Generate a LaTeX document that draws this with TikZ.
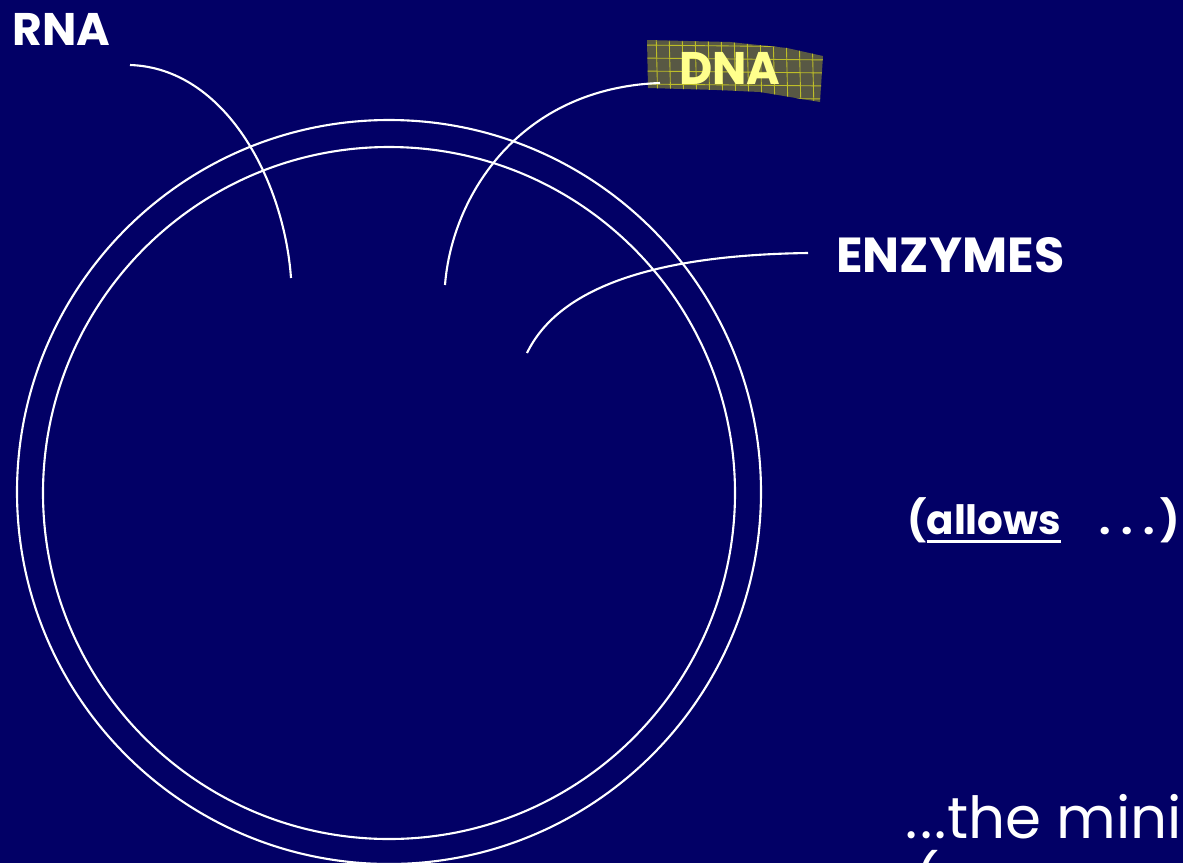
\documentclass[tikz,border=0pt]{standalone}
\usepackage{fontspec}
\setmainfont{Poppins}
\definecolor{slide}{RGB}{2,0,102}
\definecolor{dnapatch}{RGB}{88,88,68}
\definecolor{dnagrid}{RGB}{190,190,40}
\definecolor{dnatext}{RGB}{255,255,140}
\newcommand{\thickul}[1]{\setbox0\hbox{#1}\rlap{\rule[-5pt]{\wd0}{1.8pt}}\box0}
\tikzset{
  cell/.style={white,line width=1.2pt},
  pointer/.style={white,line width=1.2pt},
  tag/.style={inner sep=0pt,anchor=base west,text=white,font=\bfseries\fontsize{26}{30}\selectfont},
}
\begin{document}
\begin{tikzpicture}[x=0.02cm,y=-0.02cm]
  \fill[slide] (0,0) rectangle (1183,863);
  \useasboundingbox (0,0) rectangle (1183,863);
  % cell: two membranes
  \draw[cell] (389,492) circle[radius=372];
  \draw[cell] (389,493) circle[radius=346];
  % DNA patch with its grid
  \fill[dnapatch] (647,40)--(730,42)--(787,48)--(823,56)--(820,102)--(760,92)--(717,90)--(648,88)--cycle;
  \begin{scope}
    \clip (647,40)--(730,42)--(787,48)--(823,56)--(820,102)--(760,92)--(717,90)--(648,88)--cycle;
    \foreach \gx in {656,669,...,830}
      \draw[dnagrid,line width=0.5pt] (\gx,30)--(\gx+2,110);
    \foreach \gy in {45,58,...,110}
      \draw[dnagrid,line width=0.5pt] (640,\gy)--(830,\gy+2);
  \end{scope}
  % labels
  \node[tag] (rna) at (12,45) {RNA};
  \node[tag,text=dnatext] (dna) at (679,84) {DNA};
  \node[tag,font=\bfseries\fontsize{28}{32}\selectfont] (enzymes) at (836,272) {ENZYMES};
  \node[tag,font=\bfseries\fontsize{23}{28}\selectfont] (allows) at (907,534)
    {(\thickul{allows}\hspace{22pt}.\hspace{6pt}.\hspace{6pt}.\hspace{3pt})};
  \node[tag,font=\fontsize{33}{40}\selectfont] (minimal) at (905,838) {.\kern1.5pt.\kern1.5pt.the mini};
  \node[tag,font=\fontsize{33}{40}\selectfont] (minimal2) at (913,904) {(};
  % pointers into the cell
  \coordinate (rnafrom) at (130,65);
  \coordinate (rnato) at (291,278);
  \coordinate (dnafrom) at (660,83);
  \coordinate (dnato) at (445,285);
  \coordinate (enzfrom) at (808,253);
  \coordinate (enzto) at (527,353);
  \draw[pointer] (rnafrom) .. controls (225,68) and (284,180) .. (rnato);
  \draw[pointer] (dnafrom) .. controls (520,88) and (452,195) .. (dnato);
  \draw[pointer] (enzfrom) .. controls (660,255) and (560,285) .. (enzto);
\end{tikzpicture}
\end{document}
